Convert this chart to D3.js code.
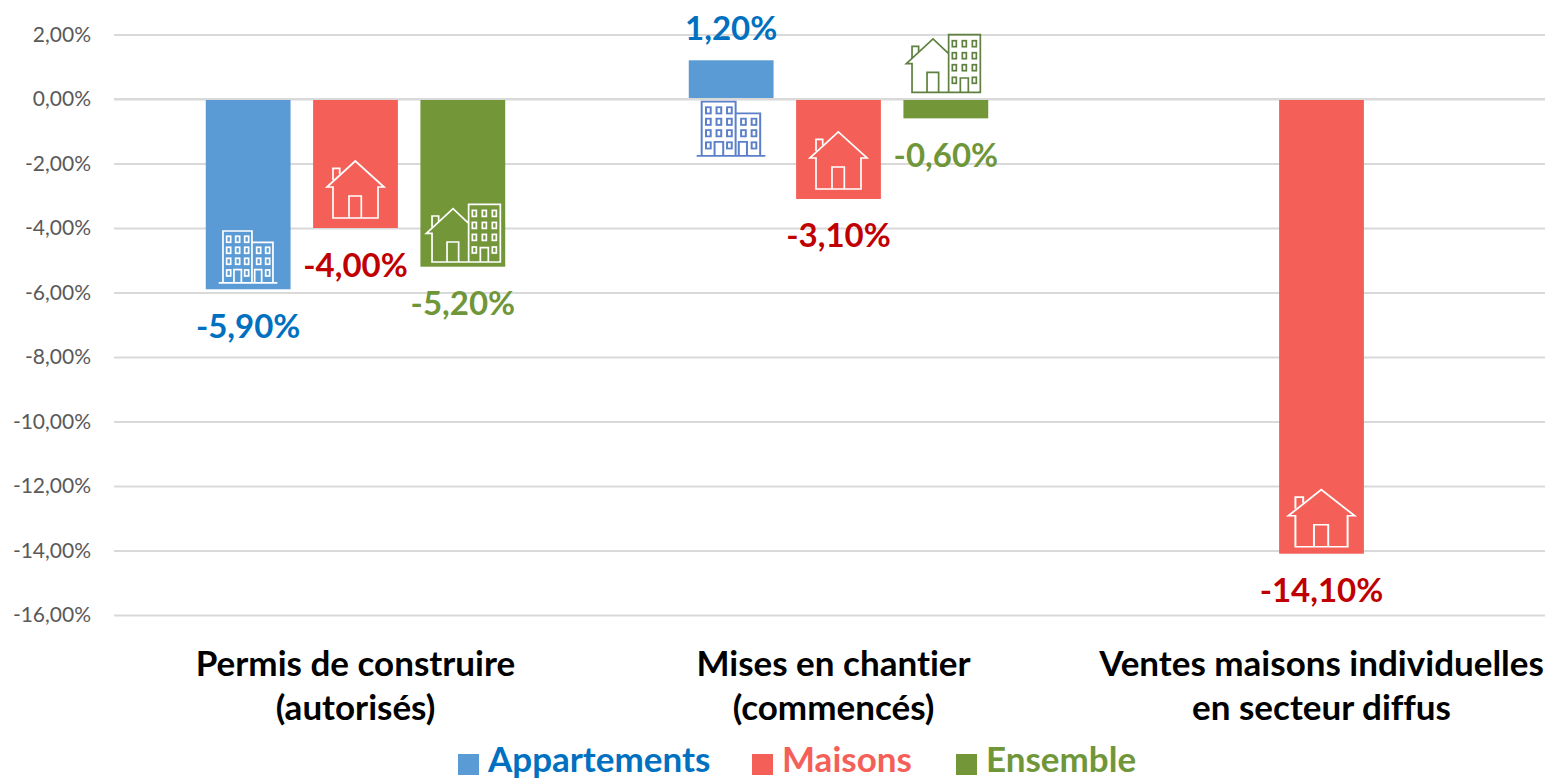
<!DOCTYPE html>
<html>
<head>
<meta charset="utf-8">
<script src="https://cdn.jsdelivr.net/npm/d3@7"></script>
<style>
  html, body { margin: 0; padding: 0; background: #fff; overflow: hidden; }
  text { font-family: Lato, "Open Sans", sans-serif; font-variant-ligatures: none; }
</style>
</head>
<body>
<svg id="chart" width="1545" height="779"></svg>
<script>
var categories = [
  ["Permis de construire", "(autorisés)"],
  ["Mises en chantier", "(commencés)"],
  ["Ventes maisons individuelles", "en secteur diffus"]
];
var seriesNames = ["Appartements", "Maisons", "Ensemble"];
var appartements = [-5.9, 1.2, null];
var maisons = [-4.0, -3.1, -14.1];
var ensemble = [-5.2, -0.6, null];
var yTicks = [2, 0, -2, -4, -6, -8, -10, -12, -14, -16];

var barColors = ["#5b9bd5", "#f46058", "#739639"];
var labelColors = ["#0070c0", "#c00000", "#70963a"];
var legendColors = ["#0070c0", "#f46058", "#70963a"];
var allValues = [appartements, maisons, ensemble];

var svg = d3.select("#chart");
var fr = d3.formatLocale({decimal: ",", thousands: " ", grouping: [3], currency: ["", "€"], minus: "-"});
var fmt = fr.format(".2f");

var x0 = d3.scaleBand().domain(d3.range(categories.length)).range([114, 1563]);
var x1 = d3.scaleBand().domain(d3.range(seriesNames.length)).range([0, x0.bandwidth()])
  .paddingInner(0.21).paddingOuter(0.855);
var y = d3.scaleLinear().domain([-16, 2]).range([615, 34.5]);

// y axis with the gridlines as long ticks
var yAxis = d3.axisLeft(y).tickValues(yTicks).tickSize(-(1563 - 114)).tickPadding(23)
  .tickFormat(d => fmt(d) + "%");
var axisG = svg.append("g").attr("transform", "translate(114,0)").call(yAxis);
axisG.select(".domain").remove();
axisG.selectAll("line").attr("stroke", "#d9d9d9").attr("stroke-width", 2);
axisG.selectAll("text").attr("fill", "#595959").style("font-size", "21px")
  .style("font-family", "Lato, sans-serif");

// flatten into bar records
var bars = [];
allValues.forEach((vals, s) => {
  vals.forEach((v, c) => {
    if (v !== null) bars.push({s: s, c: c, v: v});
  });
});
function barX(d) { return x0(d.c) + x1(d.s); }

svg.append("g").selectAll("rect")
  .data(bars)
  .join("rect")
  .attr("x", barX)
  .attr("width", x1.bandwidth())
  .attr("y", d => y(Math.max(d.v, 0)))
  .attr("height", d => Math.abs(y(d.v) - y(0)))
  .attr("fill", d => barColors[d.s]);

// the zero line sits over the bars
svg.append("line")
  .attr("x1", 114).attr("x2", 1563)
  .attr("y1", y(0)).attr("y2", y(0))
  .attr("stroke", "#d9d9d9").attr("stroke-width", 2);

// value labels
svg.append("g").selectAll("text")
  .data(bars)
  .join("text")
  .attr("x", d => barX(d) + x1.bandwidth() / 2)
  .attr("y", d => d.v > 0 ? y(d.v) - 20 : y(d.v) + 48.5)
  .attr("text-anchor", "middle")
  .attr("fill", d => labelColors[d.s])
  .style("font-size", "33px")
  .style("font-weight", 700)
  .text(d => fmt(d.v) + "%");

// icons, drawn in local px from the top left corner
function windows(g, xs, ys, w, h, skip) {
  xs.forEach((wx, i) => ys.forEach((wy, j) => {
    if (skip && skip(i, j)) return;
    g.append("rect").attr("x", wx - w / 2).attr("y", wy - h / 2).attr("width", w).attr("height", h);
  }));
}
function houseIcon(g) {
  g.append("path").attr("d", "M0,26L28.3,0L57,26H51V57H6V26H0Z");
  g.append("path").attr("d", "M22,57V35H34.3V57M6,19V7.3H12.7V13");
}
function flatsIcon(g) {
  g.append("path").attr("d", "M0,52.7H58.7M4.3,52.7V0.7H33.3V52.7M33.3,12H54.3V52.7");
  g.append("path").attr("d", "M15.3,52.7V39.3H22.7V52.7M36,52.7V39.3H43V52.7");
  windows(g, [10, 19, 28], [9, 20, 31, 42.7], 4, 6, (i, j) => i == 1 && j == 3);
  windows(g, [40, 49], [20, 31, 42.7], 4, 6, (i, j) => i == 0 && j == 2);
}
function mixedIcon(g) {
  g.append("path").attr("d", "M42.3,19.7L26.7,5L0,29.7H5.7V58.3H74V0.7H42.3V58.3");
  g.append("path").attr("d", "M20.7,58.3V38.3H32.3V58.3M5.7,24V12.3H12.3V18M54,58.3V44H62V58.3");
  windows(g, [48, 58, 68], [9.7, 21.7, 33.7, 46.3], 4, 6, (i, j) => i == 1 && j == 3);
}

// one icon per bar: where it goes is worked out from the bar's own end
var iconDraw = [flatsIcon, houseIcon, mixedIcon];
var iconSize = [[59, 53], [57, 57], [75, 59]];
bars.forEach(d => {
  var w = iconSize[d.s][0];
  var sx = 1, sy = 1, dx = 0, top, color = "#fff";
  var cx = barX(d) + x1.bandwidth() / 2;
  if (d.s == 0 && d.v > 0) { sx = 1.17; sy = 1.04; top = y(0) + 2; color = "#5b7fc8"; }
  else if (d.s == 2 && d.v > -1) { dx = -2; top = y(0) - 65; color = "#5f8040"; }
  else if (d.s == 1 && d.v < -10) { sx = 1.16; top = y(d.v) - 64; }
  else if (d.s == 0) { top = y(d.v) - 59; }
  else if (d.s == 1) { top = y(d.v) - 67; }
  else { dx = 1; top = y(d.v) - 63; }
  var g = svg.append("g")
    .attr("transform", "translate(" + (cx + dx - w * sx / 2) + "," + top + ") scale(" + sx + "," + sy + ")")
    .attr("fill", "none").attr("stroke", color).attr("stroke-width", 1.7);
  iconDraw[d.s](g);
});

// category labels
var catNudge = [0, -5, 0];
var catG = svg.append("g").selectAll("g")
  .data(categories)
  .join("g")
  .attr("transform", (d, i) => "translate(" + (x0(i) + x0.bandwidth() / 2 + catNudge[i]) + ",0)");
catG.selectAll("text")
  .data(d => d)
  .join("text")
  .attr("y", (d, i) => 676 + i * 44)
  .attr("text-anchor", "middle")
  .attr("fill", "#000")
  .style("font-size", "35px")
  .style("font-weight", 700)
  .text(d => d);

// legend
var legendSquareX = [458, 752, 956];
var legendG = svg.append("g");
seriesNames.forEach((name, i) => {
  legendG.append("rect").attr("x", legendSquareX[i]).attr("y", 754)
    .attr("width", 21).attr("height", 21).attr("fill", barColors[i]);
  legendG.append("text").attr("x", legendSquareX[i] + 30).attr("y", 772)
    .attr("fill", legendColors[i])
    .style("font-size", "35px").style("font-weight", 700)
    .text(name);
});
</script>
</body>
</html>
